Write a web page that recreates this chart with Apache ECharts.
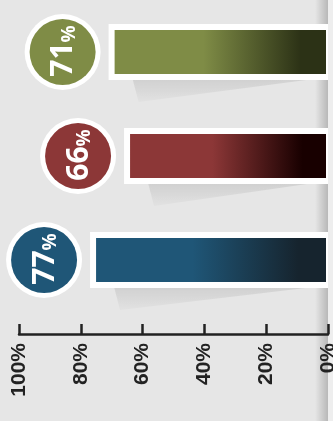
<!DOCTYPE html>
<html><head><meta charset="utf-8">
<script src="https://cdn.jsdelivr.net/npm/echarts@6/dist/echarts.min.js"></script>
<style>html,body{margin:0;padding:0;background:#e6e6e6;overflow:hidden}#c{width:333px;height:421px}</style>
</head><body><div id="c"></div>
<script>
const categories = ['Item 1', 'Item 2', 'Item 3'];
const values = [71, 66, 77];
const tickValues = [0, 20, 40, 60, 80, 100];
const baseColors = ['#7f8c46', '#8c3737', '#1f5677'];
const darkColors = ['#2c3216', '#180000', '#16242e'];

const chart = echarts.init(document.getElementById('c'), null, {renderer: 'canvas'});

function renderItem(params, api) {
  const v = api.value(0), i = api.value(1);
  const p = api.coord([v, i]);
  const z = api.coord([0, i]);
  const cy = p[1], x0 = p[0], x1 = z[0];
  const base = baseColors[i], dark = darkColors[i];
  const cx = x0 - 46;
  return {
    type: 'group',
    children: [
      {
        type: 'polygon',
        shape: {points: [[x0 + 24, cy + 27], [x1 - 14, cy + 27], [x0 + 30, cy + 50]]},
        style: {
          fill: new echarts.graphic.LinearGradient(0, 0, 0, 1, [
            {offset: 0, color: 'rgba(0,0,0,0.09)'},
            {offset: 1, color: 'rgba(0,0,0,0.02)'}
          ]),
          shadowBlur: 10, shadowColor: 'rgba(0,0,0,0.08)'
        }
      },
      {
        type: 'rect',
        shape: {x: x0, y: cy - 28, width: x1 - x0, height: 56},
        style: {fill: '#ffffff'}
      },
      {
        type: 'rect',
        shape: {x: x0 + 6, y: cy - 22, width: x1 - x0 - 8, height: 44},
        style: {
          fill: new echarts.graphic.LinearGradient(0, 0, 1, 0, [
            {offset: 0, color: base},
            {offset: 0.42, color: base},
            {offset: 0.88, color: dark},
            {offset: 1, color: dark}
          ])
        }
      },
      {
        type: 'circle',
        shape: {cx: cx, cy: cy, r: 38},
        style: {fill: '#ffffff'}
      },
      {
        type: 'circle',
        shape: {cx: cx, cy: cy, r: 33},
        style: {fill: base}
      },
      {
        type: 'text',
        x: cx + 1, y: cy - 1,
        rotation: Math.PI / 2,
        style: {
          text: '{n|' + v + '}{p|%}',
          align: 'center', verticalAlign: 'middle',
          fill: '#ffffff',
          rich: {
            n: {fontSize: 30, lineHeight: 30, fontWeight: 'bold', fontFamily: 'Open Sans', color: '#fff', verticalAlign: 'bottom'},
            p: {fontSize: 19, lineHeight: 30, fontWeight: 'bold', fontFamily: 'Open Sans', color: '#fff', verticalAlign: 'bottom'}
          }
        }
      }
    ]
  };
}

chart.setOption({
  backgroundColor: '#e6e6e6',
  animation: false,
  graphic: [
    {
      type: 'rect', z: -10, left: 315, top: 0,
      shape: {width: 13, height: 421},
      style: {
        fill: new echarts.graphic.LinearGradient(0, 0, 1, 0, [
          {offset: 0, color: 'rgba(0,0,0,0)'},
          {offset: 0.8, color: 'rgba(0,0,0,0.16)'},
          {offset: 1, color: 'rgba(0,0,0,0.2)'}
        ])
      }
    },
    {
      type: 'rect', z: -10, left: 328, top: 0,
      shape: {width: 5, height: 421},
      style: {fill: '#eeeeee'}
    }
  ],
  grid: {left: 19, right: 5, top: 0, bottom: 109, containLabel: false, outerBoundsMode: 'none'},
  xAxis: {
    type: 'value', min: 0, max: 100, interval: 20, inverse: true,
    position: 'bottom', offset: 22,
    axisLine: {show: true, lineStyle: {color: '#222', width: 2.5}},
    axisTick: {show: true, inside: true, length: 10, lineStyle: {color: '#222', width: 2.5}},
    axisLabel: {
      rotate: 90, margin: 9, fontSize: 21, fontWeight: 'bold',
      fontFamily: 'Liberation Sans', color: '#222',
      formatter: function (val) { return tickValues.indexOf(val) >= 0 ? val + '%' : ''; }
    },
    splitLine: {show: false}
  },
  yAxis: {
    type: 'category', data: categories, inverse: true, show: false
  },
  series: [{
    type: 'custom',
    renderItem: renderItem,
    encode: {x: 0, y: 1},
    data: values.map((v, i) => [v, i])
  }]
});
</script>
</body></html>
